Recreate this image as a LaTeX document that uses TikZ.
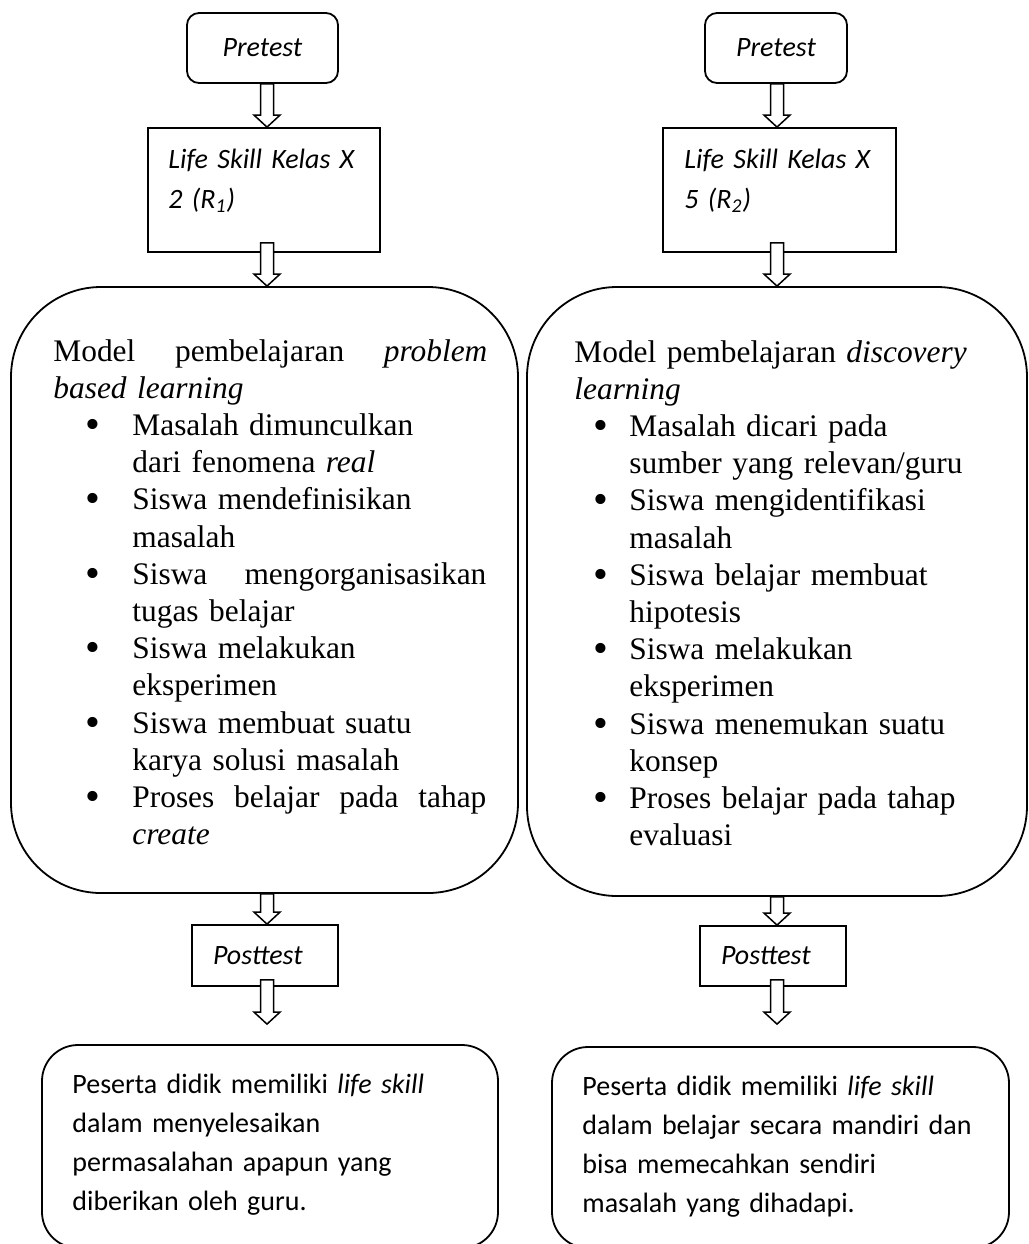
\documentclass[tikz,border=0pt]{standalone}
\usepackage{fontspec}
\setmainfont{Liberation Serif}
\newfontfamily\calibri{Carlito}
\usepackage{graphicx}
\usepackage{tikz}
\usetikzlibrary{calc}
\newlength{\bulind}
\newlength{\bulgap}
\newcommand{\bitem}[1]{\hspace*{\bulind}\makebox[\bulgap][l]{\raisebox{-0.1em}{\scalebox{1.35}{\textbullet}}}#1}
\newcommand{\bcont}[1]{\hspace*{\bulind}\hspace*{\bulgap}#1}
\newcommand{\jline}[2]{\makebox[#1][l]{#2}}
% hollow block arrow: from, to, overlap into upper box, gap before lower box
\newcommand{\blockarr}[4]{%
    \draw [ArrowB] let \p1=(#1), \p2=(#2) in
        (\x1-3.25pt,\y1+#3pt) -- (\x1-3.25pt,\y2+#4pt+6pt) -- (\x1-6.5pt,\y2+#4pt+6pt)
        -- (\x1,\y2+#4pt) -- (\x1+6.5pt,\y2+#4pt+6pt) -- (\x1+3.25pt,\y2+#4pt+6pt)
        -- (\x1+3.25pt,\y1+#3pt) -- cycle;}

\begin{document}
\begin{tikzpicture}[
    % GLOBAL CFG
    x=0.5pt, y=-0.5pt,
    % Styles
    box/.style={% plain boxes
        rectangle,
        draw,
        line width=0.9pt,
        inner sep=0pt,
        },
    roundbox/.style={% pretest
        box,
        rounded corners=6pt,
        },
    bigbox/.style={% learning model
        box,
        rounded corners=45pt,
        },
    resbox/.style={% result
        box,
        rounded corners=18pt,
        },
    cal/.style={% Calibri like text
        font=\calibri\fontsize{14pt}{19.5pt}\selectfont,
        },
    serif/.style={% Times like text
        font=\fontsize{15.7pt}{18.6pt}\selectfont,
        },
    ArrowB/.style={% hollow arrows
        draw,
        fill=white,
        line width=0.75pt,
        line join=miter,
        },
    ]

    \useasboundingbox (0,0) rectangle (1029,1244);
    \clip (0,0) rectangle (1029,1244);

    % columns of the arrows
    \coordinate (colL) at (267,0);
    \coordinate (colR) at (777,0);

    % Left column
    \node [roundbox, cal, minimum width=75.5pt, minimum height=35pt] (pre1) at (262.5,48) {\textit{Pretest}};
    \node [box, minimum width=116pt, minimum height=62pt] (life1) at (264,190) {};
    \node [cal, anchor=base west, inner sep=0pt, text width=110pt, align=left, font=\calibri\fontsize{14pt}{20pt}\selectfont] (lifetxt1) at (168,168)
        {\textit{Life Skill Kelas X}\\\textit{2 (R\textsubscript{1})}};
    \node [bigbox, minimum width=253.5pt, minimum height=303pt] (model1) at (264.5,590) {};
    \node [serif, anchor=base west, inner sep=0pt, text width=232pt, align=left] (modeltxt1) at (53,361)
        {\setlength{\bulind}{16pt}\setlength{\bulgap}{23.5pt}%
        \jline{217pt}{Model\hfill pembelajaran\hfill \textit{problem}}\\
        \textit{based learning}\\
        \bitem{Masalah dimunculkan}\\
        \bcont{dari fenomena \textit{real}}\\
        \bitem{Siswa mendefinisikan}\\
        \bcont{masalah}\\
        \bitem{\jline{177pt}{Siswa\hfill mengorganisasikan}}\\
        \bcont{tugas belajar}\\
        \bitem{Siswa melakukan}\\
        \bcont{eksperimen}\\
        \bitem{Siswa membuat suatu}\\
        \bcont{karya solusi masalah}\\
        \bitem{\jline{177pt}{Proses\hfill belajar\hfill pada\hfill tahap}}\\
        \bcont{\textit{create}}};
    \node [box, cal, text width=52pt, inner xsep=10.5pt, minimum height=30.5pt, align=left] (post1) at (265,955.5) {\textit{Posttest}};
    \node [resbox, minimum width=228pt, minimum height=101.5pt] (res1) at (270,1146.5) {};
    \node [cal, anchor=base west, inner sep=0pt, text width=210pt, align=left] (restxt1) at (72,1093)
        {Peserta didik memiliki \textit{life skill}\\
        dalam menyelesaikan\\
        permasalahan apapun yang\\
        diberikan oleh guru.};

    % Right column
    \node [roundbox, cal, minimum width=71pt, minimum height=35pt] (pre2) at (776,48) {\textit{Pretest}};
    \node [box, minimum width=116.5pt, minimum height=62pt] (life2) at (779.5,190) {};
    \node [cal, anchor=base west, inner sep=0pt, text width=110pt, align=left, font=\calibri\fontsize{14pt}{20pt}\selectfont] (lifetxt2) at (684,168)
        {\textit{Life Skill Kelas X}\\\textit{5 (R\textsubscript{2})}};
    \node [bigbox, minimum width=250pt, minimum height=304.5pt] (model2) at (777,591.5) {};
    \node [serif, anchor=base west, inner sep=0pt, text width=225pt, align=left] (modeltxt2) at (574,362)
        {\setlength{\bulind}{9.5pt}\setlength{\bulgap}{18pt}%
        Model pembelajaran \textit{discovery}\\
        \textit{learning}\\
        \bitem{Masalah dicari pada}\\
        \bcont{sumber yang relevan/guru}\\
        \bitem{Siswa mengidentifikasi}\\
        \bcont{masalah}\\
        \bitem{Siswa belajar membuat}\\
        \bcont{hipotesis}\\
        \bitem{Siswa melakukan}\\
        \bcont{eksperimen}\\
        \bitem{Siswa menemukan suatu}\\
        \bcont{konsep}\\
        \bitem{Proses belajar pada tahap}\\
        \bcont{evaluasi}};
    \node [box, cal, text width=52pt, inner xsep=10.5pt, minimum height=30pt, align=left] (post2) at (773,956) {\textit{Posttest}};
    \node [resbox, minimum width=228.5pt, minimum height=100.5pt] (res2) at (780.5,1147.5) {};
    \node [cal, anchor=base west, inner sep=0pt, text width=210pt, align=left] (restxt2) at (582,1095)
        {Peserta didik memiliki \textit{life skill}\\
        dalam belajar secara mandiri dan\\
        bisa memecahkan sendiri\\
        masalah yang dihadapi.};

    % Arrows
    \blockarr{pre1.south -| colL}{life1.north -| colL}{0}{0}
    \blockarr{life1.south -| colL}{model1.north -| colL}{5}{0}
    \blockarr{model1.south -| colL}{post1.north -| colL}{0}{0}
    \blockarr{post1.south -| colL}{res1.north -| colL}{3.5}{10}

    \blockarr{pre2.south -| colR}{life2.north -| colR}{0}{0}
    \blockarr{life2.south -| colR}{model2.north -| colR}{5}{0}
    \blockarr{model2.south -| colR}{post2.north -| colR}{0}{0}
    \blockarr{post2.south -| colR}{res2.north -| colR}{3.5}{11}
\end{tikzpicture}
\end{document}
